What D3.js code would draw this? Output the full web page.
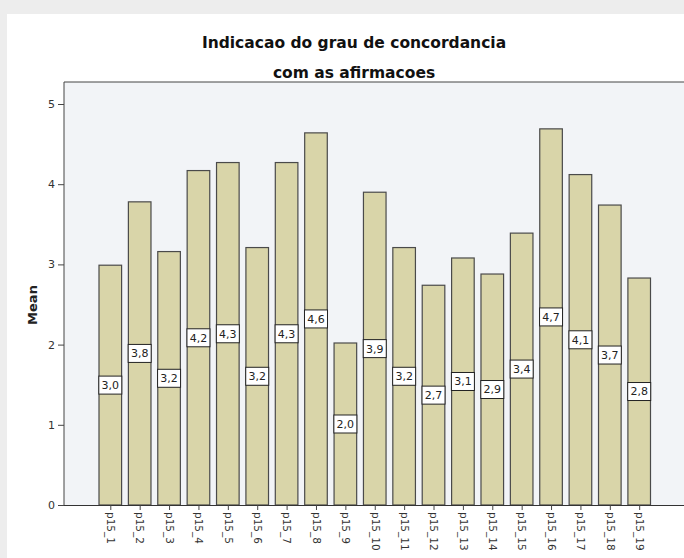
<!DOCTYPE html>
<html>
<head>
<meta charset="utf-8">
<script src="https://cdn.jsdelivr.net/npm/d3@7"></script>
<style>
  body { margin: 0; background: #ededed; }
  svg { display: block; }
</style>
</head>
<body>
<div id="chart"></div>
<script>
// data
const categories = ['p15_1','p15_2','p15_3','p15_4','p15_5','p15_6','p15_7','p15_8','p15_9','p15_10',
  'p15_11','p15_12','p15_13','p15_14','p15_15','p15_16','p15_17','p15_18','p15_19'];
const means = [2.99, 3.78, 3.16, 4.17, 4.27, 3.21, 4.27, 4.64, 2.02, 3.90,
  3.21, 2.74, 3.08, 2.88, 3.39, 4.69, 4.12, 3.74, 2.83];
const yTicks = [0, 1, 2, 3, 4, 5];
const titleLines = ['Indicacao do grau de concordancia', 'com as afirmacoes'];

const width = 684, height = 558;
const svg = d3.select('#chart').append('svg')
  .attr('width', width)
  .attr('height', height);

// white panel
svg.append('rect')
  .attr('x', 7).attr('y', 14)
  .attr('width', width).attr('height', height)
  .attr('fill', '#ffffff');

const plotLeft = 64, plotRight = 684, plotTop = 82, plotBottom = 505;

const y = d3.scaleLinear().domain([0, 5]).range([plotBottom, 104]);
const x = d3.scalePoint().domain(categories).range([110.3, 639.2]);
const barW = 22.6;

// plot background
svg.append('rect')
  .attr('x', plotLeft).attr('y', plotTop)
  .attr('width', plotRight - plotLeft).attr('height', plotBottom - plotTop)
  .attr('fill', '#f2f4f7');

// frame top + left
svg.append('path')
  .attr('d', `M${plotLeft},${plotBottom}V${plotTop}H${plotRight + 2}`)
  .attr('fill', 'none')
  .attr('stroke', '#444')
  .attr('stroke-width', 1);

// bars
svg.append('g').selectAll('rect')
  .data(means)
  .enter().append('rect')
  .attr('x', (d, i) => x(categories[i]) - barW / 2)
  .attr('y', d => y(d))
  .attr('width', barW)
  .attr('height', d => plotBottom - y(d))
  .attr('fill', '#d9d5a9')
  .attr('stroke', '#4a4a4a')
  .attr('stroke-width', 1.2);

// value labels at half height
const fmt = d3.format('.1f');
const lab = svg.append('g').selectAll('g')
  .data(means)
  .enter().append('g')
  .attr('transform', (d, i) => `translate(${x(categories[i])},${y(d / 2)})`);
lab.append('rect')
  .attr('x', -11.5).attr('y', -9)
  .attr('width', 23).attr('height', 18)
  .attr('fill', '#ffffff')
  .attr('stroke', '#222')
  .attr('stroke-width', 1);
lab.append('text')
  .attr('text-anchor', 'middle')
  .attr('dy', '0.36em')
  .attr('font-family', 'DejaVu Sans, sans-serif')
  .attr('font-size', 11)
  .attr('fill', '#222')
  .text(d => fmt(d).replace('.', ','));

// y axis
const yAxis = svg.append('g')
  .attr('transform', `translate(${plotLeft},0)`)
  .call(d3.axisLeft(y).tickValues(yTicks).tickFormat(d3.format('d')).tickSize(6).tickPadding(3));
yAxis.select('.domain').remove();
yAxis.selectAll('line').attr('stroke', '#444');
yAxis.selectAll('text')
  .attr('font-family', 'DejaVu Sans, sans-serif')
  .attr('font-size', 11)
  .attr('fill', '#333');

// x axis
const xAxis = svg.append('g')
  .attr('transform', `translate(0,${plotBottom})`)
  .call(d3.axisBottom(x).tickSize(5).tickPadding(0));
xAxis.select('.domain')
  .attr('d', `M${plotLeft},0.5H${plotRight + 2}`)
  .attr('stroke', '#333');
xAxis.selectAll('line').attr('stroke', '#444');
xAxis.selectAll('text')
  .attr('font-family', 'DejaVu Sans, sans-serif')
  .attr('font-size', 10.5)
  .attr('fill', '#333')
  .attr('text-anchor', 'start')
  .attr('transform', 'translate(0,7) rotate(90)')
  .attr('x', 0)
  .attr('y', 0)
  .attr('dy', '0.35em');

// y title
svg.append('text')
  .attr('transform', 'translate(37,305) rotate(-90)')
  .attr('text-anchor', 'middle')
  .attr('font-family', 'DejaVu Sans, sans-serif')
  .attr('font-weight', 'bold')
  .attr('font-size', 13)
  .attr('fill', '#222')
  .text('Mean');

// title
svg.append('g').selectAll('text')
  .data(titleLines)
  .enter().append('text')
  .attr('x', 354)
  .attr('y', (d, i) => 48 + i * 30)
  .attr('text-anchor', 'middle')
  .attr('font-family', 'DejaVu Sans, sans-serif')
  .attr('font-weight', 'bold')
  .attr('font-size', 15.5)
  .attr('fill', '#111')
  .text(d => d);
</script>
</body>
</html>
